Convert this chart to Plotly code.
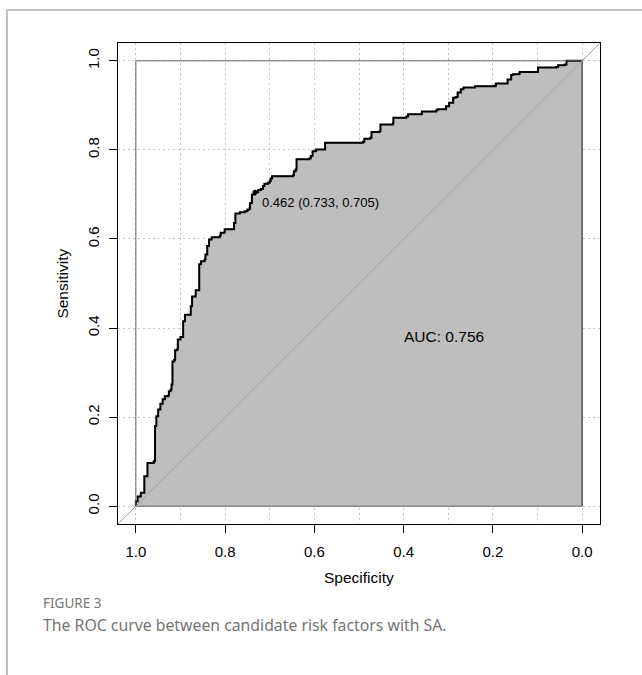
import plotly.graph_objects as go

# ROC curve (specificity, sensitivity)
specificity = [1.000, 1.000, 0.996, 0.996, 0.989, 0.989, 0.983, 0.981, 0.976, 0.974,
               0.974, 0.960, 0.957, 0.957, 0.954, 0.954, 0.950, 0.950, 0.945, 0.945,
               0.940, 0.940, 0.935, 0.928, 0.926, 0.922, 0.920, 0.918, 0.918, 0.914,
               0.912, 0.908, 0.906, 0.900, 0.894, 0.894, 0.890, 0.890, 0.879, 0.877,
               0.877, 0.874, 0.874, 0.866, 0.866, 0.858, 0.858, 0.854, 0.854, 0.846,
               0.844, 0.840, 0.840, 0.836, 0.836, 0.830, 0.812, 0.810, 0.801, 0.801,
               0.782, 0.780, 0.777, 0.777, 0.767, 0.756, 0.750, 0.745, 0.744, 0.740,
               0.740, 0.733, 0.726, 0.720, 0.715, 0.712, 0.704, 0.700, 0.698, 0.695,
               0.648, 0.646, 0.642, 0.640, 0.611, 0.608, 0.604, 0.596, 0.579, 0.576,
               0.491, 0.488, 0.475, 0.472, 0.454, 0.452, 0.424, 0.423, 0.394, 0.390,
               0.360, 0.359, 0.327, 0.324, 0.309, 0.305, 0.298, 0.289, 0.283, 0.279,
               0.272, 0.266, 0.240, 0.194, 0.193, 0.170, 0.167, 0.159, 0.155, 0.142,
               0.140, 0.101, 0.099, 0.058, 0.054, 0.039, 0.035, 0.000]
sensitivity = [0.000, 0.011, 0.011, 0.022, 0.022, 0.030, 0.030, 0.067, 0.067, 0.072,
               0.097, 0.101, 0.101, 0.180, 0.180, 0.202, 0.205, 0.217, 0.220, 0.230,
               0.232, 0.240, 0.247, 0.248, 0.258, 0.262, 0.273, 0.275, 0.325, 0.328,
               0.350, 0.352, 0.374, 0.380, 0.382, 0.415, 0.418, 0.430, 0.430, 0.432,
               0.449, 0.451, 0.471, 0.474, 0.485, 0.487, 0.543, 0.546, 0.550, 0.554,
               0.565, 0.567, 0.584, 0.588, 0.599, 0.604, 0.607, 0.614, 0.618, 0.622,
               0.622, 0.636, 0.638, 0.657, 0.660, 0.662, 0.666, 0.670, 0.681, 0.684,
               0.700, 0.705, 0.710, 0.712, 0.719, 0.724, 0.726, 0.730, 0.736, 0.741,
               0.743, 0.752, 0.756, 0.779, 0.781, 0.786, 0.797, 0.801, 0.801, 0.816,
               0.818, 0.825, 0.827, 0.840, 0.842, 0.857, 0.860, 0.872, 0.875, 0.880,
               0.881, 0.886, 0.889, 0.891, 0.891, 0.898, 0.906, 0.917, 0.919, 0.929,
               0.936, 0.940, 0.943, 0.946, 0.949, 0.949, 0.958, 0.968, 0.970, 0.971,
               0.975, 0.975, 0.985, 0.986, 0.990, 0.992, 1.000, 1.000]

best_threshold = 0.462
best_spec = 0.733
best_sens = 0.705
auc_value = 0.756

tick_vals = [0.0, 0.2, 0.4, 0.6, 0.8, 1.0]
tick_text = ["0.0", "0.2", "0.4", "0.6", "0.8", "1.0"]

FONT = "Liberation Sans, Arial, sans-serif"
GRID_DASH = "2px,3px"
GRID_COLOR = "#c4c4c4"

fig = go.Figure()

# AUC polygon
fig.add_trace(go.Scatter(
    x=specificity + [0.0], y=sensitivity + [0.0],
    mode="lines", line=dict(color="#222222", width=1, shape="hv"),
    fill="toself", fillcolor="#bebebe", hoverinfo="skip", showlegend=False))

# ROC curve
fig.add_trace(go.Scatter(
    x=specificity, y=sensitivity, mode="lines",
    line=dict(color="black", width=2, shape="hv"),
    hoverinfo="skip", showlegend=False))

# best threshold point
fig.add_trace(go.Scatter(
    x=[best_spec], y=[best_sens], mode="markers",
    marker=dict(color="black", size=5), showlegend=False, hoverinfo="skip"))

fig.add_annotation(x=0.721, y=0.683, xref="x", yref="y",
                   text=f"{best_threshold:.3f} ({best_spec:.3f}, {best_sens:.3f})",
                   showarrow=False, xanchor="left", yanchor="middle",
                   font=dict(family=FONT, size=13, color="black"))
fig.add_annotation(x=0.31, y=0.381, xref="x", yref="y",
                   text=f"AUC: {auc_value:.3f}",
                   showarrow=False, xanchor="center", yanchor="middle",
                   font=dict(family=FONT, size=15.5, color="black"))

# inner box and identity line
fig.add_shape(type="rect", x0=1, x1=0, y0=0, y1=1, xref="x", yref="y",
              line=dict(color="#666666", width=1), layer="above")
fig.add_shape(type="line", x0=1.04, y0=-0.04, x1=-0.04, y1=1.04, xref="x", yref="y",
              line=dict(color="#a6a6a6", width=1), layer="above")

# axis titles
fig.add_annotation(x=0.5, y=-0.112, xref="paper", yref="paper", text="Specificity",
                   showarrow=False, xanchor="center", yanchor="middle",
                   font=dict(family=FONT, size=15.5, color="black"))
fig.add_annotation(x=-0.116, y=0.5, xref="paper", yref="paper", text="Sensitivity",
                   showarrow=False, textangle=-90, xanchor="center", yanchor="middle",
                   font=dict(family=FONT, size=15.5, color="black"))

# caption
fig.add_annotation(x=-0.1598, y=-0.1642, xref="paper", yref="paper", text="FIGURE 3",
                   showarrow=False, xanchor="left", yanchor="middle",
                   font=dict(family="Noto Sans, sans-serif", size=13.5, color="#7a7a7a"))
fig.add_annotation(x=-0.1598, y=-0.210, xref="paper", yref="paper",
                   text="The ROC curve between candidate risk factors with SA.",
                   showarrow=False, xanchor="left", yanchor="middle",
                   font=dict(family="Noto Sans, sans-serif", size=15.8, color="#757575"))

# page frame
fig.add_shape(type="line", xref="paper", yref="paper", x0=-0.2303, x1=-0.2303,
              y0=1.0686, y1=-0.32, line=dict(color="#aaaaaa", width=1.5))
fig.add_shape(type="line", xref="paper", yref="paper", x0=-0.2303, x1=1.09,
              y0=1.0686, y1=1.0686, line=dict(color="#aaaaaa", width=1.5))

axis_common = dict(
    showline=True, linecolor="black", linewidth=1, mirror=True,
    ticks="outside", ticklen=8, tickcolor="black", tickwidth=1,
    tickvals=tick_vals, ticktext=tick_text, zeroline=False,
    showgrid=True, gridcolor=GRID_COLOR, griddash=GRID_DASH, gridwidth=1,
    tickfont=dict(family=FONT, size=15, color="black"),
)

fig.update_xaxes(range=[1.04, -0.04], ticklabelstandoff=6, **axis_common,
                 minor=dict(dtick=0.1, tick0=0, showgrid=True, gridcolor=GRID_COLOR,
                            griddash=GRID_DASH, gridwidth=1, ticks=""))
fig.update_yaxes(range=[-0.04, 1.04], tickangle=-90, ticklabelstandoff=4, **axis_common)

fig.update_layout(
    width=642, height=675,
    margin=dict(l=118, r=42, t=43, b=151),
    paper_bgcolor="white", plot_bgcolor="white",
    showlegend=False,
)

fig.write_html("out.html")
